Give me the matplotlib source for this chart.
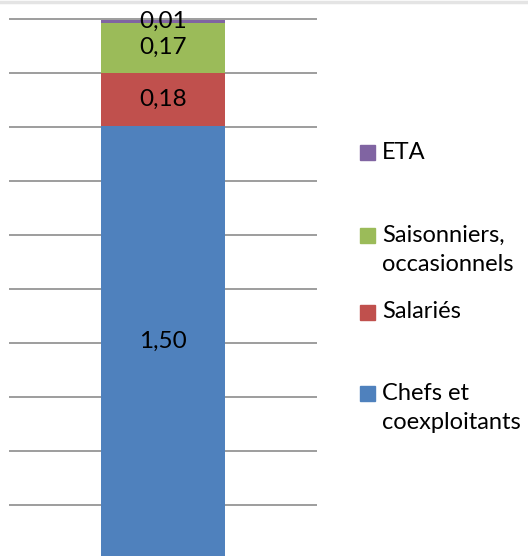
"""Single stacked bar: workforce breakdown (values from the chart labels)."""
import matplotlib
matplotlib.use("Agg")
import matplotlib.pyplot as plt
from matplotlib.ticker import MultipleLocator
from matplotlib.patches import Rectangle
from matplotlib.lines import Line2D

plt.rcParams['font.family'] = ['Lato', 'DejaVu Sans']

# data, bottom to top of the stack
categories = ["Chefs et\ncoexploitants", "Salariés", "Saisonniers,\noccasionnels", "ETA"]
values = [1.50, 0.18, 0.17, 0.01]
colors = ["#4f81bd", "#c0504d", "#9bbb59", "#8064a2"]

fig = plt.figure(figsize=(5.28, 5.56), dpi=100)
W, H = 528, 556

# axes spans the whole height (chart is cropped at the bottom)
ax = fig.add_axes([9 / W, 0, 308 / W, 1])
ax.set_xlim(-1, 1)
ax.set_ylim(0.0424, 1.9271)

bottom = 0.0
for cat, v, c in zip(categories, values, colors):
    bars = ax.bar(0, v, width=0.805, bottom=bottom, color=c, zorder=2)
    ax.bar_label(bars, labels=[f"{v:.2f}".replace(".", ",")], label_type="center",
                 fontsize=17.5, color="black", zorder=3)
    bottom += v

ax.yaxis.set_major_locator(MultipleLocator(0.1831, offset=0.0327))
ax.grid(axis="y", color="#9d9d9d", linewidth=1.4, zorder=1)
ax.tick_params(left=False, bottom=False, labelleft=False, labelbottom=False)
for s in ax.spines.values():
    s.set_visible(False)

# faint border line at the very top
fig.add_artist(Line2D([0, 1], [1 - 1.5 / H, 1 - 1.5 / H], color="#e4e4e4", linewidth=2.5,
                      transform=fig.transFigure))

# legend, drawn by hand (top to bottom): label centre in pixels
legend_y = [152, 250, 312, 408]
legend_sq_y = [152, 235, 312, 393]
for cat, c, ty, sy in zip(categories[::-1], colors[::-1], legend_y, legend_sq_y):
    fig.add_artist(Rectangle((360 / W, 1 - (sy + 7.5) / H), 15 / W, 15 / H,
                             color=c, transform=fig.transFigure))
    fig.text(382 / W, 1 - ty / H, cat, fontsize=17, va="center", ha="left",
             linespacing=1.45)

fig.savefig("out.png", dpi=100)
